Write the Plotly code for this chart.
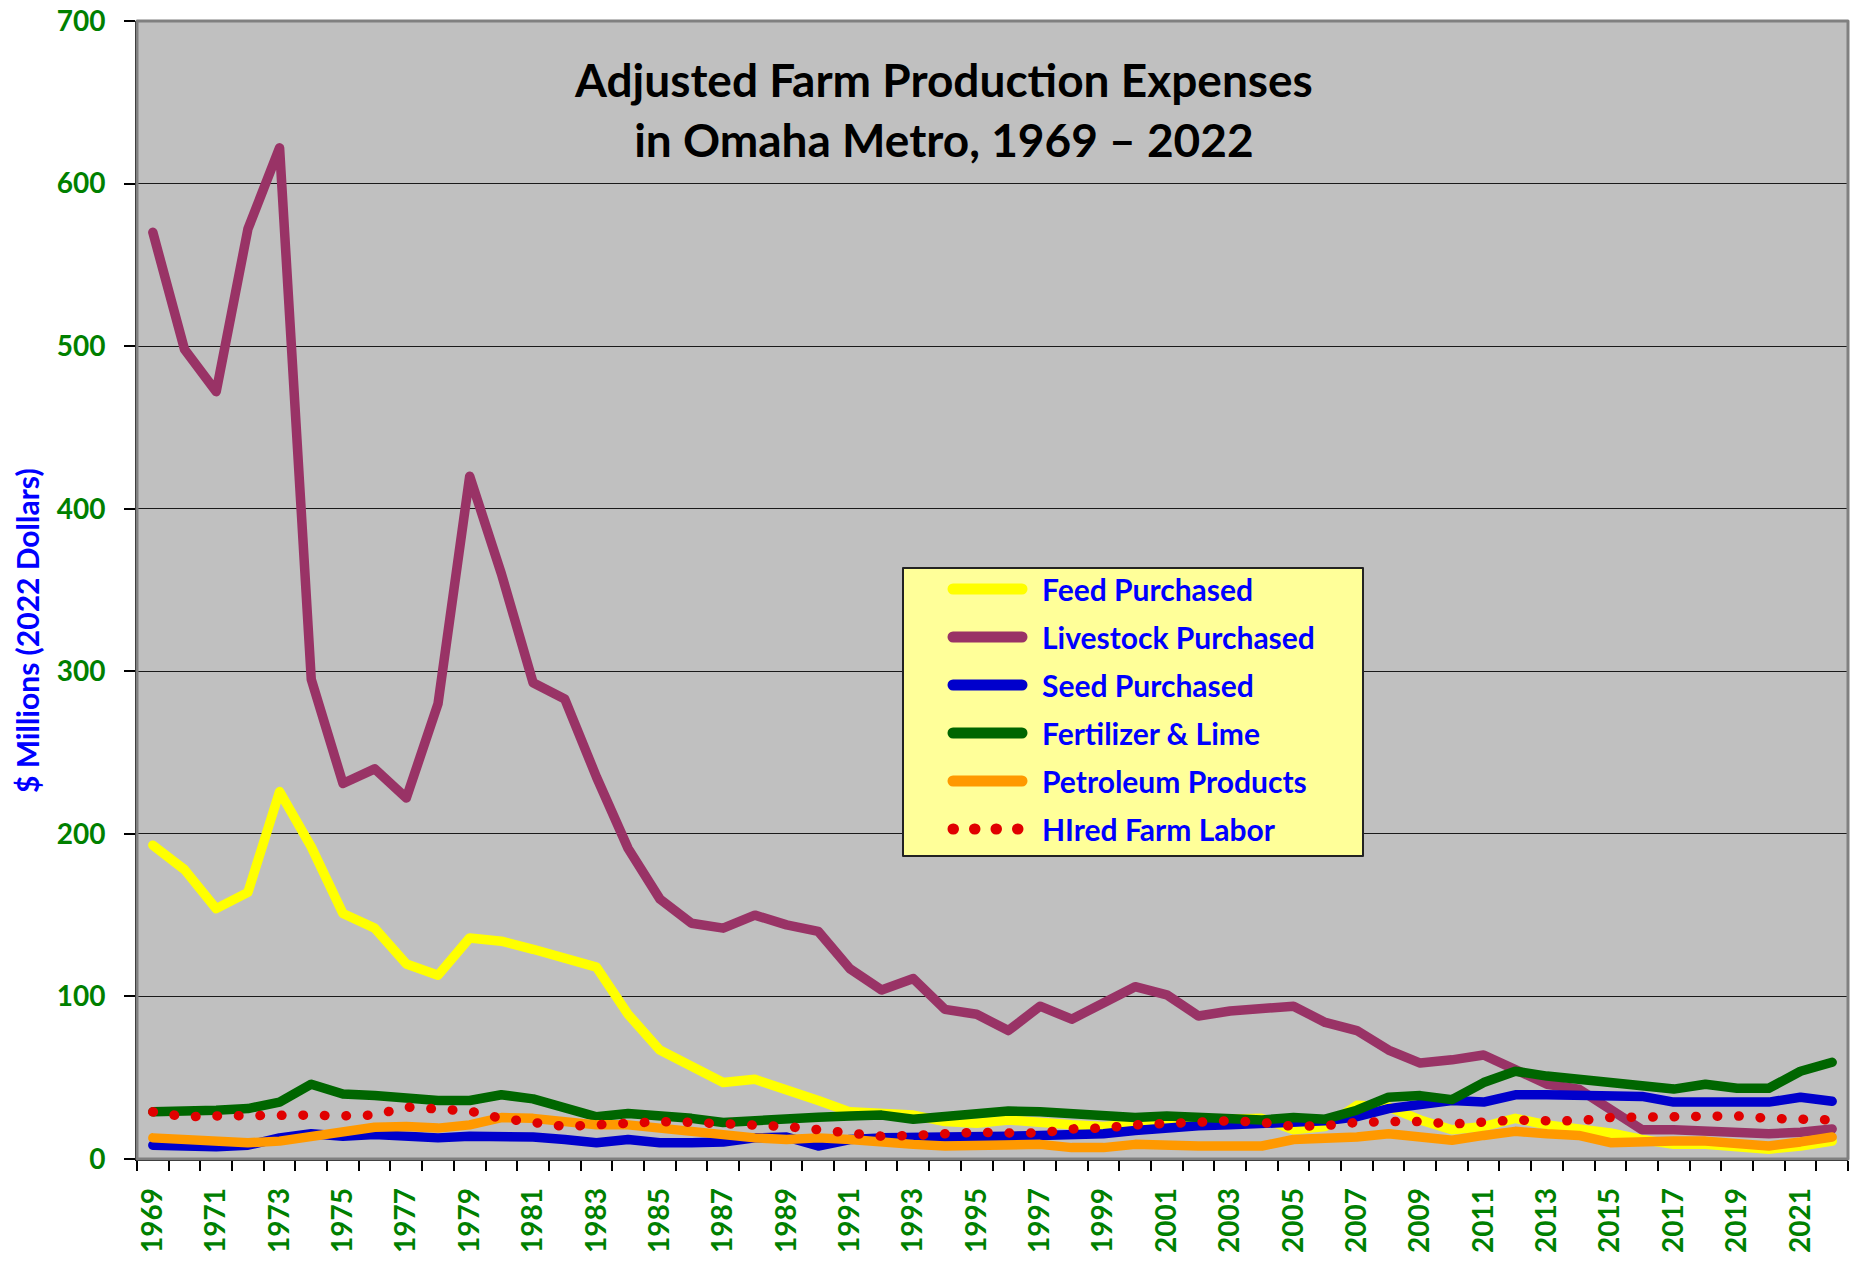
"""
Adjusted farm production expenses, Omaha metro, 1969-2022.
"""

import plotly.graph_objects as go

years = list(range(1969, 2023))

feed = [193, 178, 154, 164, 226, 192, 151, 142, 120, 113,
        136, 134, 129, 124, 118, 89, 67, 57, 47, 49,
        43, 36, 29, 28, 27, 23, 22, 24, 22, 21,
        20, 22, 23, 24, 25, 25, 18, 20, 33, 32,
        24, 18, 20, 25, 21, 19, 16, 12, 9, 9,
        7, 6, 8, 11]

livestock = [570, 498, 472, 572, 622, 295, 231, 240, 222, 280,
             420, 360, 293, 283, 235, 191, 160, 145, 142, 150,
             144, 140, 117, 104, 111, 92, 89, 79, 94, 86,
             96, 106, 101, 88, 91, 93, 94, 84, 79, 67,
             59, 61, 64, 55, 46, 43, 31, 18, 18, 17.5,
             16.5, 15.5, 16.5, 18.5]

seed = [8.5, 7.5, 7.5, 8.5, 13, 15.5, 14, 15, 14, 13,
        14, 14, 13.5, 12, 10, 12, 10, 10, 10.5, 13,
        13.5, 8, 12, 13, 13, 13, 13, 14, 14.5, 15,
        15.5, 17.5, 19.5, 20.5, 21, 21.5, 22.5, 23.5, 26, 31,
        33.5, 36, 35, 39.5, 39.5, 39, 38.5, 38.5, 35, 35,
        36, 35, 38, 35.5]

fertilizer = [29, 29, 30, 31, 35, 46, 40, 39, 37, 36,
              36, 39.5, 37, 31, 26, 28, 27, 25, 22.5, 24,
              25.5, 25.7, 26.5, 27, 24.5, 26.5, 27.5, 29.5, 29, 28,
              26.5, 25.5, 26.5, 25.5, 24, 24, 25.5, 24.5, 30, 38,
              39, 36.5, 47, 54, 51, 49, 46.5, 45.5, 43, 46,
              43.5, 43.5, 54, 59.5]

petroleum = [13, 12, 12, 10, 11, 14, 17.5, 19.5, 20, 19,
             21, 25.5, 25, 22.5, 21, 21, 19, 16, 15, 13,
             12, 13, 12, 10, 9, 8, 8, 9, 9, 7,
             7, 9, 8, 8, 8, 8, 12, 12.5, 13.5, 15.5,
             13, 11.5, 14.5, 17, 15.5, 14.5, 10, 11, 11, 11,
             9, 8, 10.5, 13.5]

hired_labor = [29, 26, 26.5, 27, 27.5, 27, 26.5, 27, 32, 30.5,
               29.5, 25, 22, 20, 21, 22.5, 23, 22.5, 22, 21.5,
               20, 18, 16, 14, 14.5, 16, 16.5, 16, 16, 18.5,
               19, 21, 22, 22.5, 23.5, 22.5, 20, 20.5, 22.5, 23,
               23, 21.5, 22.5, 24, 23.5, 23.5, 25.5, 26, 26, 26,
               26.5, 25, 24, 24]

series_names = ["Feed Purchased", "Livestock Purchased", "Seed Purchased",
                "Fertilizer & Lime", "Petroleum Products", "HIred Farm Labor"]
series_values = [feed, livestock, seed, fertilizer, petroleum, hired_labor]
series_colors = ["#FFFF00", "#993366", "#0000CC", "#006600", "#FF9900", "#E00000"]
# round dots: tiny dash + round line caps (set in the page css below)
series_dash = ["solid", "solid", "solid", "solid", "solid", "0.5px,21px"]

tick_years = list(range(1969, 2023, 2))

# figure geometry (pixels)
W, H = 1867, 1271
M_L, M_R, M_T, M_B = 137, 19, 21, 112
PLOT_W = W - M_L - M_R
PLOT_H = H - M_T - M_B


def px_x(x):
    return (x - M_L) / PLOT_W


def px_y(y):
    return (H - M_B - y) / PLOT_H


FONT = "Lato"
LINE_W = 9.5

fig = go.Figure()

for name, vals, color, dash in zip(series_names, series_values, series_colors, series_dash):
    fig.add_trace(go.Scatter(
        x=years,
        y=vals,
        mode='lines',
        name=name,
        line=dict(color=color, width=LINE_W, dash=dash),
        showlegend=False,
    ))

# hand-built legend box to match the original spreadsheet look
LEG_X0, LEG_X1, LEG_Y0, LEG_Y1 = 903, 1363, 568, 856
ROW0, ROW_STEP = 589, 48
fig.add_shape(type="rect", xref="paper", yref="paper",
              x0=px_x(LEG_X0), x1=px_x(LEG_X1), y0=px_y(LEG_Y1), y1=px_y(LEG_Y0),
              fillcolor="#FFFF99", line=dict(color="#222222", width=2), layer="above")
for i, (name, color, dash) in enumerate(zip(series_names, series_colors, series_dash)):
    yy = px_y(ROW0 + i * ROW_STEP)
    fig.add_shape(type="line", xref="paper", yref="paper",
                  x0=px_x(953), x1=px_x(1022), y0=yy, y1=yy,
                  line=dict(color=color, width=11, dash=dash),
                  layer="above")
    fig.add_annotation(x=px_x(1040), y=yy, xref="paper", yref="paper",
                       text=name, showarrow=False, xanchor="left", yanchor="middle",
                       font=dict(family=FONT, size=30, color="#0000FF", weight="bold"))

# title inside plot area
fig.add_annotation(
    x=px_x(943), y=px_y(109), xref="paper", yref="paper",
    text="Adjusted Farm Production Expenses<br>in Omaha Metro, 1969 \u2013 2022",
    showarrow=False, xanchor="center", yanchor="middle",
    font=dict(family=FONT, size=46, color="black", weight="bold"),
)

# y-axis title
fig.add_annotation(
    x=px_x(27), y=px_y(631), xref="paper", yref="paper",
    text="$ Millions (2022 Dollars)", textangle=-90,
    showarrow=False, xanchor="center", yanchor="middle",
    font=dict(family=FONT, size=30, color="#0000FF", weight="bold"),
)

# plot frame: grey top/right like the original
fig.add_shape(type="rect", xref="paper", yref="paper", x0=0, x1=1, y0=0, y1=1,
              line=dict(color="#808080", width=3), layer="above")

fig.update_layout(
    width=W, height=H,
    margin=dict(l=M_L, r=M_R, t=M_T, b=M_B),
    plot_bgcolor="#C0C0C0",
    paper_bgcolor="white",
    showlegend=False,
)

fig.update_xaxes(
    range=[1968.5, 2022.5], automargin=False,
    tickmode="array", tickvals=tick_years, ticktext=[str(y) for y in tick_years],
    tickangle=-90, ticks="", ticklabelstandoff=16,
    tickfont=dict(family=FONT, size=28, color="#008000", weight="bold"),
    minor=dict(ticks="outside", tick0=1968.5, dtick=1, ticklen=10,
               tickcolor="black", tickwidth=1.5, showgrid=False),
    showgrid=False, zeroline=False,
    showline=True, linecolor="black", linewidth=1.5,
)

fig.update_yaxes(
    range=[0, 700], dtick=100, automargin=False,
    ticks="outside", ticklen=11, tickcolor="black", tickwidth=1.5,
    ticklabelstandoff=13,
    tickfont=dict(family=FONT, size=28, color="#008000", weight="bold"),
    showgrid=True, gridcolor="#1a1a1a", gridwidth=1,
    zeroline=False,
    showline=True, linecolor="black", linewidth=2,
)

page_js = """
document.body.style.margin = '0';
var css = document.createElement('style');
css.textContent = '.scatterlayer .js-line, .shapelayer path { stroke-linecap: round; stroke-linejoin: round; }';
document.head.appendChild(css);
"""

fig.write_html("out.html", config={"displayModeBar": False}, post_script=page_js)
